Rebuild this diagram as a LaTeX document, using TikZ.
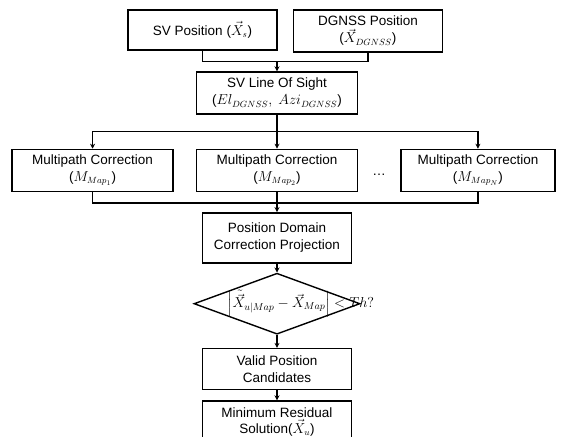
\documentclass[tikz,border=0pt]{standalone}
\usepackage{fontspec}
\setmainfont{Liberation Sans}
\usepackage{amsmath}
\usetikzlibrary{calc, positioning, arrows.meta, shapes.geometric}

\begin{document}
\begin{tikzpicture}[
  x=1pt, y=1pt,
  font=\fontsize{13.5}{17}\selectfont,
  flowbox/.style={draw, line width=1.4pt, minimum width=#1, minimum height=42pt, align=center, inner sep=2pt},
  flowbox/.default=149pt,
  decision/.style={draw, diamond, line width=1.4pt, minimum width=166pt, minimum height=61pt, inner sep=0pt},
  flowline/.style={line width=1.4pt},
  flowarrow/.style={flowline, -{Stealth[length=5pt, width=5pt]}}
]
\useasboundingbox (0,0) rectangle (569,-436);
\node[flowbox, minimum height=40pt] (sv) at (202.5,-30) {SV Position ($\vec{X}_s$)};
\node[flowbox, right=15pt of sv.north east, anchor=north west] (dgnss) {DGNSS Position\\($\vec{X}_{DGNSS}$)};
\node[flowbox=161pt] (los) at (277,-93) {SV Line Of Sight\\($El_{DGNSS},\ Azi_{DGNSS}$)};
\node[flowbox=161pt, below=34pt of los] (mc2) {Multipath Correction\\($M_{Map_2}$)};
\node[flowbox=161pt, left=22pt of mc2] (mc1) {Multipath Correction\\($M_{Map_1}$)};
\node[flowbox=154pt, right=42pt of mc2] (mcN) {Multipath Correction\\($M_{Map_N}$)};
\node (dots) at ($(mc2.east)!.5!(mcN.west)+(0,-4pt)$) {\ldots};
\node[flowbox, minimum height=50pt, below=20pt of mc2] (pdcp) {Position Domain\\Correction Projection};
\node[decision, below=9pt of pdcp] (check) {\makebox[0pt]{\hspace{48pt}\fontsize{14.7}{17}\selectfont$\left|\tilde{\vec{X}}_{u|Map}-\vec{X}_{Map}\right| < Th?$}};
\node[flowbox, minimum height=41pt, below=13pt of check] (valid) {Valid Position\\Candidates};
\node[flowbox, below=10pt of valid, font=\fontsize{13.5}{16}\selectfont] (minres) {Minimum Residual\\Solution($\vec{X}_u$)};

% join the two inputs
\coordinate (topjoin) at ($(los.north)+(0,10pt)$);
\draw[flowline] (sv.south) |- (topjoin -| dgnss.south) -- (dgnss.south);
\draw[flowarrow] (topjoin) -- (los.north);

% fan out to the maps
\coordinate (split) at ($(los.south)+(0,-17pt)$);
\draw[flowarrow] (los.south) -- (mc2.north);
\draw[flowarrow] (split) -| (mc1.north);
\draw[flowarrow] (split) -| (mcN.north);

% gather again
\coordinate (merge) at ($(mc2.south)+(0,-11pt)$);
\draw[flowline] (mc1.south) |- (merge);
\draw[flowline] (mcN.south) |- (merge);
\draw[flowarrow] (mc2.south) -- (pdcp.north);

\draw[flowarrow] (pdcp) -- (check);
\draw[flowarrow] (check) -- (valid);
\draw[flowarrow] (valid) -- (minres);
\end{tikzpicture}
\end{document}
